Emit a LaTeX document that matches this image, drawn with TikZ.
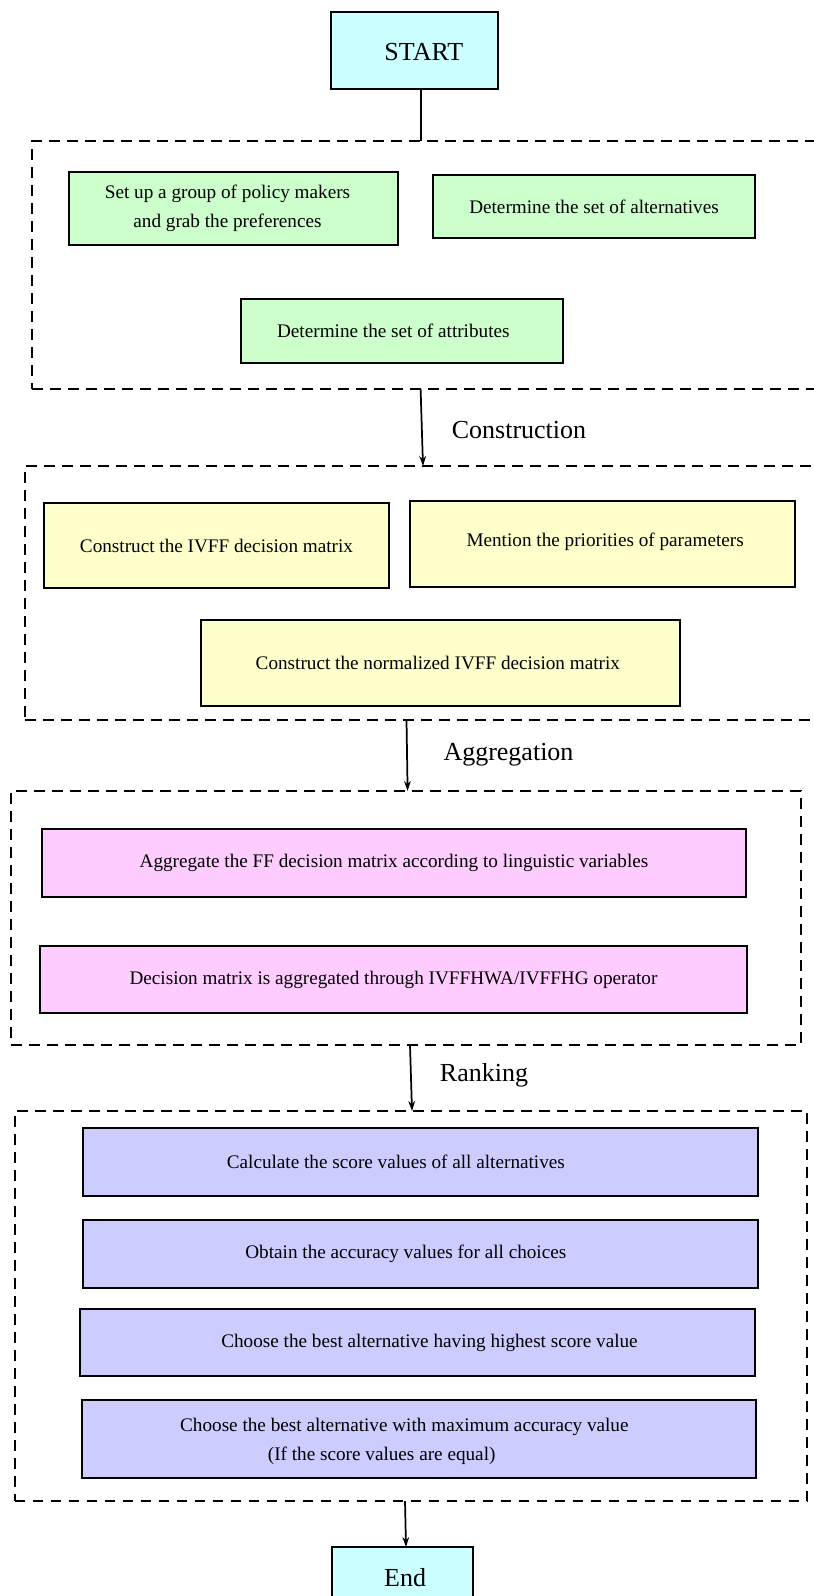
\documentclass[tikz,border=0pt]{standalone}
\usepackage{fontspec}
\setmainfont{Liberation Serif}
\usetikzlibrary{fit,arrows.meta}
\definecolor{cyanbox}{HTML}{CCFFFF}
\definecolor{greenbox}{HTML}{CCFFCC}
\definecolor{yellowbox}{HTML}{FFFFCC}
\definecolor{pinkbox}{HTML}{FFCCFF}
\definecolor{bluebox}{HTML}{CCCCFF}
\begin{document}
\begin{tikzpicture}[x=0.75pt,y=-0.75pt,
  bx/.style={draw, line width=1.7pt, inner sep=0pt},
  grp/.style={draw, dash pattern=on 8pt off 5.5pt, line width=1.5pt, inner sep=0pt},
  txt/.style={font=\fontsize{14.4}{22}\selectfont, align=center},
  big/.style={font=\fontsize{19.5}{24}\selectfont},
  arr/.style={line width=1.3pt, -{Stealth[length=7.5pt,width=5pt]}}]
\clip (0,0) rectangle (814,1596);
\fill[white] (0,0) rectangle (814,1596);

% START
\node[bx, fill=cyanbox, fit={(331,12) (498,89)}, label={[big, xshift=7pt, yshift=-1.5pt]center:START}] (start) {};

% group 1
\node[grp, fit={(32,141) (840,389)}] (g1) {};
\node[bx, fill=greenbox, fit={(69,172) (398,245)}, label={[txt, xshift=-4.5pt]center:Set up a group of policy makers\\and grab the preferences}] (n1) {};
\node[bx, fill=greenbox, fit={(433,175) (755,238)}, label={[txt]center:Determine the set of alternatives}] (n2) {};
\node[bx, fill=greenbox, fit={(241,299) (563,363)}, label={[txt, xshift=-6.5pt]center:Determine the set of attributes}] (n3) {};

% group 2
\node[grp, fit={(25,466) (840,720)}] (g2) {};
\node[bx, fill=yellowbox, fit={(44,503) (389,588)}, label={[txt]center:Construct the IVFF decision matrix}] (n4) {};
\node[bx, fill=yellowbox, fit={(410,501) (795,587)}, label={[txt, xshift=2pt, yshift=2pt]center:Mention the priorities of parameters}] (n5) {};
\node[bx, fill=yellowbox, fit={(201,620) (680,706)}, label={[txt, xshift=-2pt]center:Construct the normalized IVFF decision matrix}] (n6) {};

% group 3
\node[grp, fit={(11,791) (801,1045)}] (g3) {};
\node[bx, fill=pinkbox, fit={(42,829) (746,897)}, label={[txt]center:Aggregate the FF decision matrix according to linguistic variables}] (n7) {};
\node[bx, fill=pinkbox, fit={(40,946) (747,1013)}, label={[txt]center:Decision matrix is aggregated through IVFFHWA/IVFFHG operator}] (n8) {};

% group 4
\node[grp, fit={(14.5,1111) (807,1501)}] (g4) {};
\node[bx, fill=bluebox, fit={(83,1128) (758,1196)}, label={[txt, xshift=-18.5pt]center:Calculate the score values of all alternatives}] (n9) {};
\node[bx, fill=bluebox, fit={(83,1220) (758,1288)}, label={[txt, xshift=-11pt]center:Obtain the accuracy values for all choices}] (n10) {};
\node[bx, fill=bluebox, fit={(80,1309) (755,1376)}, label={[txt, xshift=9pt]center:Choose the best alternative having highest score value}] (n11) {};
\node[bx, fill=bluebox, fit={(82,1400) (756,1478)}, label={[txt, xshift=-11pt, yshift=-2pt]center:Choose the best alternative with maximum accuracy value\\(If the score values are equal)\hspace*{34pt}}] (n12) {};

% End
\node[bx, fill=cyanbox, fit={(332,1547) (473,1624)}, label={[big, xshift=2pt, yshift=6pt]center:End}] (end) {};

% stage labels
\node[big] (l1) at (519,430) {Construction};
\node[big] (l2) at (508.5,755) {Aggregation};
\node[big] (l3) at (484,1075) {Ranking};

% connectors
\coordinate (c0) at (420.5,141);
\coordinate (c1a) at (420.6,389);
\coordinate (c1b) at (423,466);
\coordinate (c2a) at (406.5,720);
\coordinate (c2b) at (407.6,791);
\coordinate (c3a) at (410,1045);
\coordinate (c3b) at (412,1111);
\coordinate (c4a) at (405,1501);
\coordinate (c4b) at (406,1547);
\draw[line width=1.5pt] (start.south -| c0) -- (c0);
\draw[arr] (c1a) -- (c1b);
\draw[arr] (c2a) -- (c2b);
\draw[arr] (c3a) -- (c3b);
\draw[arr] (c4a) -- (c4b);
\end{tikzpicture}
\end{document}
